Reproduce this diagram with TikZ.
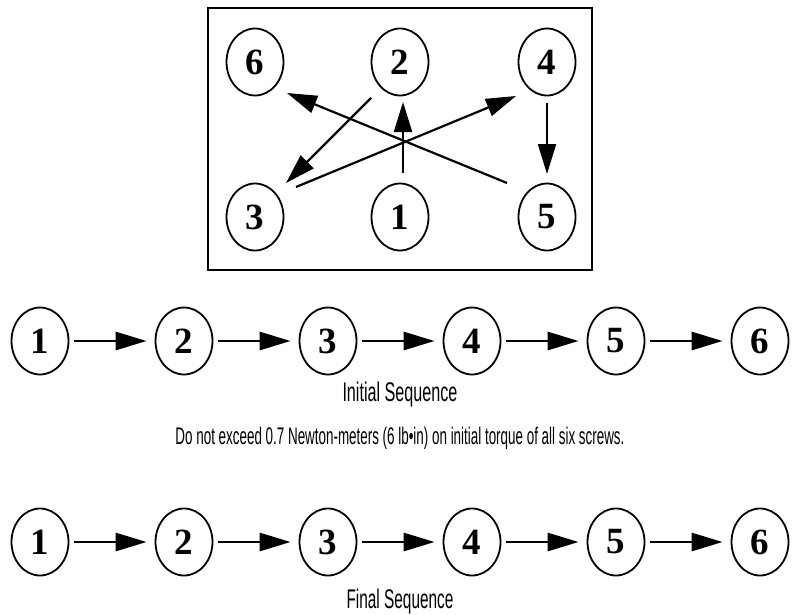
\documentclass[tikz,border=0pt]{standalone}
\usepackage{fontspec}
\setmainfont{Liberation Serif}
\newfontfamily\capfont{Liberation Sans}
\usetikzlibrary{arrows.meta,shapes.geometric}
\begin{document}
\begin{tikzpicture}[x=1pt,y=-1pt,
  num/.style={draw,ellipse,line width=1.8pt,inner sep=0pt,minimum width=57pt,minimum height=67pt,
    font=\fontsize{37}{37}\selectfont\bfseries},
  arr/.style={line width=2.2pt,-{Triangle[length=30pt,width=18pt]}},
  rowarr/.style={line width=2.8pt,-{Triangle[length=31pt,width=18pt]},shorten <=5pt,shorten >=8pt},
  captext/.style={anchor=base,inner sep=0pt,font=\capfont\fontsize{27}{27}\selectfont},
  notetext/.style={anchor=base,inner sep=0pt,font=\capfont\fontsize{24}{24}\selectfont}]
\useasboundingbox (0,0) rectangle (794,614);
% box
\draw[line width=2pt] (208,8) rectangle (592,270);
\node[num] (b6) at (255,62) {6};
\node[num] (b2) at (400,62) {2};
\node[num] (b4) at (547,62) {4};
\node[num] (b3) at (255,217) {3};
\node[num] (b1) at (400,217) {1};
\node[num] (b5) at (547,217) {5};
\draw[arr] ([shift={(3,-44)}]b1.center) -- ([shift={(3,40)}]b2.center);
\draw[arr] ([shift={(-29,36)}]b2.center) -- ([shift={(31,-34)}]b3.center);
\draw[arr] ([shift={(41,-30)}]b3.center) -- ([shift={(-31,34)}]b4.center);
\draw[arr] ([shift={(0,41)}]b4.center) -- ([shift={(0,-43)}]b5.center);
\draw[arr] ([shift={(-40,-34)}]b5.center) -- ([shift={(32,31)}]b6.center);
% sequences
\foreach \i/\x in {1/40,2/184,3/328,4/472,5/616,6/760}{
  \node[num] (i\i) at (\x,341) {\i};
  \node[num] (f\i) at (\x,542) {\i};
}
\foreach \a/\b in {1/2,2/3,3/4,4/5,5/6}{
  \draw[rowarr] (i\a) -- (i\b);
  \draw[rowarr] (f\a) -- (f\b);
}
\node[captext] (t1) at (400,401) {\resizebox{115pt}{\height}{Initial Sequence}};
\node[notetext] (t2) at (400,444) {\resizebox{449pt}{\height}{Do not exceed 0.7 Newton-meters (6 lb•in) on initial torque of all six screws.}};
\node[captext] (t3) at (400,608) {\resizebox{107pt}{\height}{Final Sequence}};
\end{tikzpicture}
\end{document}
